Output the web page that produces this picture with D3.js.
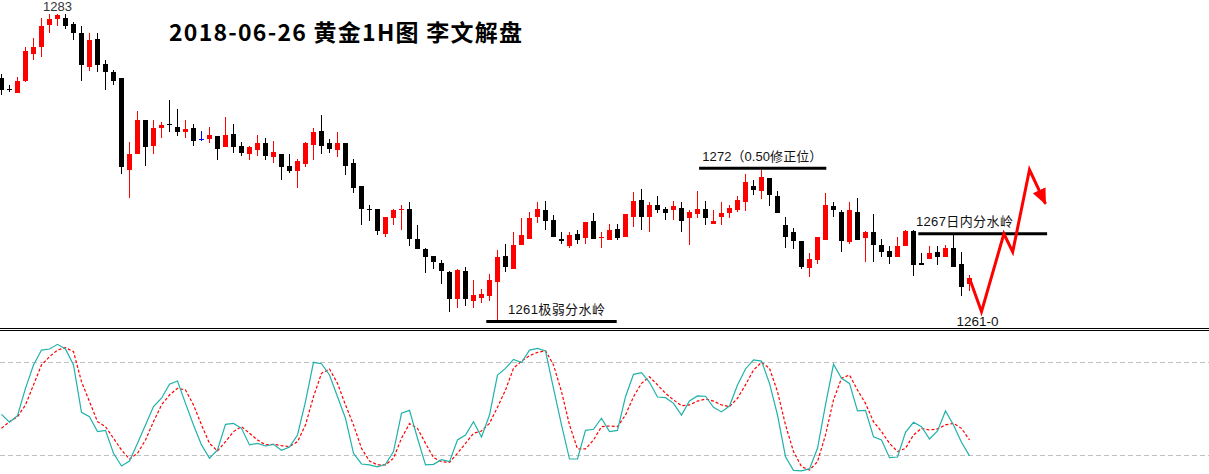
<!DOCTYPE html>
<html>
<head>
<meta charset="utf-8">
<title>黄金1H图</title>
<script src="https://d3js.org/d3.v7.min.js"></script>
<style>
  body { margin: 0; background: #fff; overflow: hidden; }
  svg { display: block; }
</style>
</head>
<body>
<script>
// ---- candle data (1H gold) ----
var opens = [1278.4,1277.6,1277.3,1278.2,1280.1,1280.6,1282.2,1282.6,1282.7,1282.3,
  1281.6,1279.2,1281.2,1279.4,1278.8,1278.4,1271.8,1272.9,1275.4,1273.5,
  1274.8,1275.1,1274.9,1274.5,1274.8,1274.0,1274.0,1274.2,1273.4,1274.4,
  1273.5,1272.9,1273.2,1273.7,1272.7,1272.9,1272.1,1271.7,1272.2,1273.6,
  1274.6,1273.7,1273.2,1273.7,1272.3,1270.6,1269.0,1269.0,1267.2,1268.3,
  1268.9,1269.0,1266.8,1266.1,1265.6,1265.1,1264.45,1262.5,1264.5,1262.4,
  1262.6,1262.75,1263.7,1265.6,1264.7,1266.4,1266.8,1268.4,1268.9,1268.2,
  1266.85,1266.3,1267.2,1266.9,1268.1,1266.9,1266.75,1267.55,1267.0,1268.4,
  1269.6,1268.4,1269.3,1269.0,1268.9,1269.05,1268.3,1268.6,1269.0,1267.9,
  1268.4,1268.7,1268.9,1269.5,1270.6,1270.3,1271.2,1269.9,1267.8,1267.3,
  1266.7,1264.75,1265.3,1266.75,1269.2,1268.8,1266.6,1268.8,1266.9,1267.3,
  1266.4,1265.95,1265.5,1266.3,1267.4,1265.1,1265.4,1265.9,1265.5,1266.2,
  1265.0,1263.6];
var highs = [1278.7,1277.9,1278.5,1280.6,1281.3,1282.7,1283.0,1283.0,1283.0,1282.4,
  1282.1,1281.6,1281.6,1279.7,1279.0,1278.4,1273.8,1276.0,1275.4,1275.4,
  1275.2,1276.8,1276.2,1275.4,1275.1,1274.6,1274.9,1274.2,1275.6,1275.1,
  1273.8,1273.5,1274.3,1274.1,1273.9,1272.9,1272.9,1272.6,1273.8,1274.8,
  1275.7,1274.0,1274.5,1273.7,1272.6,1270.6,1269.3,1269.0,1268.4,1269.0,
  1269.3,1269.5,1267.8,1266.2,1265.6,1265.3,1264.5,1264.7,1264.8,1263.9,
  1263.2,1264.3,1266.0,1266.5,1267.35,1268.3,1268.8,1269.5,1269.55,1268.55,
  1267.3,1267.3,1267.5,1268.05,1268.7,1267.3,1267.9,1267.9,1268.6,1270.2,
  1270.4,1269.5,1269.9,1269.15,1269.55,1269.5,1268.9,1270.3,1269.55,1268.9,
  1269.5,1269.3,1269.9,1271.5,1271.1,1271.8,1271.2,1270.3,1268.4,1267.6,
  1266.7,1265.8,1267.0,1270.1,1269.5,1268.9,1269.5,1269.75,1267.4,1268.6,
  1266.8,1266.3,1267.0,1267.5,1267.5,1265.8,1266.3,1266.3,1266.4,1267.1,
  1265.9,1264.25];
var lows = [1277.2,1277.4,1277.3,1278.1,1279.7,1279.9,1281.6,1282.1,1281.9,1281.1,
  1278.2,1278.9,1278.8,1277.5,1277.9,1271.5,1269.8,1272.9,1272.1,1272.9,
  1274.1,1274.5,1274.2,1274.1,1273.5,1273.9,1273.7,1272.5,1273.4,1273.0,
  1272.8,1272.5,1272.8,1272.5,1272.3,1271.1,1271.6,1270.5,1272.0,1272.5,
  1272.9,1273.0,1272.7,1271.4,1270.1,1267.8,1268.1,1267.1,1267.0,1267.8,
  1267.5,1266.3,1266.1,1264.4,1264.7,1263.6,1261.6,1261.9,1262.0,1261.9,
  1262.25,1262.4,1261.0,1264.45,1264.7,1266.4,1266.8,1267.95,1267.5,1267.0,
  1266.5,1266.2,1266.5,1266.5,1266.8,1266.2,1266.75,1266.75,1267.0,1267.7,
  1267.5,1267.35,1268.7,1268.2,1268.2,1267.3,1266.4,1268.3,1267.8,1267.9,
  1267.8,1268.3,1268.8,1268.85,1270.0,1269.7,1269.2,1268.7,1266.2,1266.1,
  1264.65,1264.1,1265.0,1266.75,1268.4,1265.9,1266.5,1266.75,1265.2,1265.2,
  1265.5,1265.0,1265.5,1266.3,1264.2,1264.95,1265.4,1264.95,1265.5,1264.8,
  1262.75,1263.1];
var closes = [1277.5,1277.5,1278.2,1280.3,1280.6,1282.1,1282.6,1282.9,1282.1,1281.6,
  1279.3,1281.1,1279.3,1278.8,1278.2,1272.0,1272.9,1275.4,1273.4,1274.8,
  1275.0,1275.0,1274.5,1274.7,1273.9,1274.0,1274.3,1273.3,1274.3,1273.4,
  1273.0,1273.4,1273.7,1272.8,1273.1,1272.0,1271.7,1272.4,1273.7,1274.5,
  1273.5,1273.3,1273.7,1272.1,1270.5,1269.0,1268.9,1267.4,1268.4,1268.9,
  1269.0,1266.8,1266.1,1265.5,1265.2,1264.5,1262.5,1264.6,1262.5,1262.8,
  1262.9,1263.9,1265.5,1264.8,1266.4,1267.1,1268.3,1269.0,1268.1,1267.0,
  1266.7,1267.1,1266.75,1268.05,1266.8,1267.0,1267.5,1266.9,1268.6,1269.55,
  1268.4,1269.3,1268.9,1268.7,1269.2,1268.1,1268.8,1269.0,1268.3,1268.1,
  1268.7,1269.05,1269.6,1270.9,1270.35,1271.3,1270.0,1268.7,1267.0,1266.7,
  1264.8,1265.4,1266.95,1269.3,1268.9,1266.7,1268.9,1266.75,1267.3,1266.4,
  1265.9,1265.55,1266.3,1267.4,1264.95,1264.95,1265.8,1265.55,1266.15,1264.8,
  1263.4,1264.05];

// ---- stochastic pane ----
var kValues = [46.4,41.3,45.6,63.2,78.3,87.9,88.6,91.6,88.6,78.3,
  47.7,44.9,35.3,36.1,21.3,13.1,16.3,27.7,39.6,51.4,
  56.8,65.8,67.9,53.5,39.6,26.7,18.1,23.4,40.0,40.6,
  37.4,26.7,27.7,26.0,27.1,23.2,25.4,33.1,54.6,80.0,
  79.1,71.8,57.8,43.9,21.3,14.4,13.8,12.5,14.2,22.4,
  47.1,49.0,31.0,13.8,14.2,17.2,15.9,29.9,33.1,41.7,
  31.8,46.0,71.8,76.1,81.9,79.8,87.9,89.0,87.3,63.2,
  39.6,17.6,17.6,36.1,36.8,43.9,35.3,36.1,57.8,72.2,
  73.3,67.1,57.6,57.2,53.5,46.0,55.0,58.3,58.1,51.0,
  48.0,51.8,65.4,75.7,81.5,80.8,66.4,46.0,19.1,10.3,
  9.9,11.2,24.5,52.5,78.7,69.7,66.4,48.6,49.0,32.0,
  29.9,18.5,18.9,34.8,41.3,38.5,30.5,35.7,48.6,39.6,
  28.4,19.6];
var dValues = [37.4,41.7,44.9,52.5,65.4,78.3,83.6,87.9,89.4,86.9,
  67.5,54.6,41.7,38.5,31.0,23.4,17.6,21.3,29.9,41.7,
  52.5,58.9,63.2,62.1,52.5,39.6,27.7,22.8,28.8,35.3,
  38.5,34.2,29.9,26.7,27.1,26.2,25.6,28.8,39.6,57.8,
  72.9,75.7,66.4,52.5,39.6,24.5,16.3,13.8,13.8,18.1,
  31.0,40.4,37.4,27.7,18.5,15.9,15.5,21.3,27.7,34.2,
  35.7,40.6,51.0,62.1,76.1,80.8,84.3,86.4,87.5,78.3,
  61.1,39.6,24.1,24.1,29.9,38.5,38.9,38.5,46.0,57.8,
  66.4,70.7,65.4,60.0,55.7,52.0,52.5,55.0,56.3,55.0,
  52.5,51.4,56.8,65.4,75.0,80.0,76.1,61.1,39.6,22.4,
  12.7,10.5,15.9,33.1,55.7,69.7,71.8,62.1,53.5,41.7,
  35.3,27.7,22.4,24.5,33.1,37.4,36.3,37.0,39.6,40.6,
  37.4,29.9];
var stochLevels = [80, 20];

// ---- hand-drawn annotations (bar index / price) ----
var levelPrices = [1271.9, 1260.9, 1267.2];
var levelFrom = [87.2, 60.6, 114.6];
var levelTo = [103.1, 76.9, 130.7];
var levelLabels = ["1272（0.50修正位）", "1261极弱分水岭", "1267日内分水岭"];
var levelLabelAt = [87.6, 63.3, 114.3];
var pathIdx = [121, 122.5, 125.3, 126.4, 128.5, 130.5];
var pathPrice = [1264.0, 1261.6, 1267.2, 1265.9, 1271.8, 1269.35];
var title = "2018-06-26 黄金1H图 李文解盘";

var width = 1209, height = 474;

var svg = d3.select("body").append("svg")
  .attr("width", width)
  .attr("height", height)
  .style("background", "#fff");

var defs = svg.append("defs");
defs.append("marker")
  .attr("id", "head")
  .attr("markerUnits", "userSpaceOnUse")
  .attr("markerWidth", 16).attr("markerHeight", 14)
  .attr("refX", 15).attr("refY", 7)
  .attr("orient", "auto")
  .append("path")
  .attr("d", "M0,0 L16,7 L0,14 Z")
  .attr("fill", "#ff0000");

var n = opens.length;
var x = d3.scaleLinear().domain([0, n - 1]).range([1.5, 1.5 + 8 * (n - 1)]);
var y = d3.scaleLinear().domain([1260.5, 1284]).range([327, 0]);
var ys = d3.scaleLinear().domain([0, 100]).range([486.3, 331.3]);

var bars = d3.range(n).map(function(i) {
  return { i: i, o: opens[i], h: highs[i], l: lows[i], c: closes[i] };
});

function barColor(d) {
  if (d.c > d.o) return "#ff0000";
  if (d.c < d.o) return "#000000";
  return "#0000ff";
}

var candle = svg.append("g").attr("shape-rendering", "crispEdges")
  .selectAll("g").data(bars).enter().append("g");

candle.append("line")
  .attr("x1", function(d) { return x(d.i); })
  .attr("x2", function(d) { return x(d.i); })
  .attr("y1", function(d) { return Math.round(y(d.h)); })
  .attr("y2", function(d) { return Math.round(y(d.l)); })
  .attr("stroke", barColor)
  .attr("stroke-width", 1);

candle.append("rect")
  .attr("x", function(d) { return x(d.i) - 2.5; })
  .attr("width", 5)
  .attr("y", function(d) { return Math.round(y(Math.max(d.o, d.c))); })
  .attr("height", function(d) {
    var t = Math.round(y(Math.max(d.o, d.c))), b = Math.round(y(Math.min(d.o, d.c)));
    return Math.max(1, b - t);
  })
  .attr("fill", barColor);

// label of the swing high, centred on the bars that share it
var hiMax = d3.max(highs);
var hiBars = d3.range(n).filter(function(i) { return highs[i] === hiMax; });
svg.append("text")
  .attr("x", x(d3.mean(hiBars)))
  .attr("y", y(hiMax) - 2.5)
  .attr("text-anchor", "middle")
  .attr("font-family", "Liberation Sans, Arial, sans-serif")
  .attr("font-size", 13)
  .attr("fill", "#333")
  .text(d3.format("d")(hiMax));

// title
svg.append("text")
  .attr("x", 169)
  .attr("y", 41)
  .attr("font-family", "Noto Sans CJK SC, sans-serif")
  .attr("font-weight", "bold")
  .attr("font-size", 23)
  .attr("textLength", 353)
  .attr("fill", "#000")
  .text(title);

// level lines with labels
var lv = svg.append("g");
levelPrices.forEach(function(p, k) {
  lv.append("line")
    .attr("x1", x(levelFrom[k])).attr("x2", x(levelTo[k]))
    .attr("y1", y(p)).attr("y2", y(p))
    .attr("stroke", "#000").attr("stroke-width", 3);
  lv.append("text")
    .attr("x", x(levelLabelAt[k]))
    .attr("y", y(p) - 7.5)
    .attr("font-family", "Liberation Sans, Noto Sans CJK SC, sans-serif")
    .attr("font-size", 13)
    .attr("textLength", k === 0 ? 120 : 97)
    .attr("lengthAdjust", "spacing")
    .attr("fill", "#111")
    .text(levelLabels[k]);
});

// projected path with arrow
var pts = pathIdx.map(function(v, k) { return [x(v), y(pathPrice[k])]; });
svg.append("path")
  .attr("d", d3.line()(pts))
  .attr("fill", "none")
  .attr("stroke", "#ff0000")
  .attr("stroke-width", 3)
  .attr("stroke-linejoin", "miter")
  .attr("marker-end", "url(#head)");

var low = d3.minIndex(pathPrice);
svg.append("text")
  .attr("x", x(pathIdx[low]) - 4)
  .attr("y", y(pathPrice[low]) + 14)
  .attr("text-anchor", "middle")
  .attr("font-family", "Liberation Sans, Arial, sans-serif")
  .attr("font-size", 13)
  .attr("textLength", 42)
  .attr("lengthAdjust", "spacingAndGlyphs")
  .attr("fill", "#111")
  .text("1261-0");

// pane separator
svg.append("g").attr("shape-rendering", "crispEdges")
  .selectAll("line").data([328.5, 330.5]).enter().append("line")
  .attr("x1", 0).attr("x2", width)
  .attr("y1", function(d) { return d; }).attr("y2", function(d) { return d; })
  .attr("stroke", "#000");

// stochastic levels
svg.append("g").attr("shape-rendering", "crispEdges")
  .selectAll("line").data(stochLevels).enter().append("line")
  .attr("x1", 0).attr("x2", width)
  .attr("y1", function(d) { return Math.round(ys(d)) + 0.5; })
  .attr("y2", function(d) { return Math.round(ys(d)) + 0.5; })
  .attr("stroke", "#c0c0c0")
  .attr("stroke-dasharray", "5,3");

var kLine = d3.line().x(function(d, i) { return x(i); }).y(function(d) { return ys(d); });

svg.append("path")
  .attr("d", kLine(dValues))
  .attr("fill", "none")
  .attr("stroke", "#ff0000")
  .attr("stroke-width", 1.2)
  .attr("stroke-dasharray", "3,2");

svg.append("path")
  .attr("d", kLine(kValues))
  .attr("fill", "none")
  .attr("stroke", "#20b2aa")
  .attr("stroke-width", 1.2);
</script>
</body>
</html>
